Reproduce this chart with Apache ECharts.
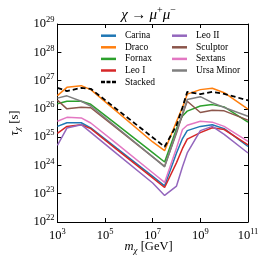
<!DOCTYPE html>
<html><head><meta charset="utf-8">
<script src="https://cdn.jsdelivr.net/npm/echarts@6/dist/echarts.min.js"></script>
<style>html,body{margin:0;padding:0;background:#fff}#c{width:266px;height:262px}</style>
</head><body><div id="c"></div>
<script>
// x: log10(m_chi / GeV), y: log10(tau / s)
const massLog   = [3,     3.4,   4,     4.4,   5.5,   7,     7.5,   8,     8.25,  8.45,  9,     9.5,   10,    11];
const carina    = [25.38, 25.51, 25.51, 25.33, 24.60, 23.61, 23.28, 24.44, 24.95, 25.23, 25.38, 25.44, 25.30, 24.67];
const draco     = [26.47, 26.76, 26.82, 26.68, 25.90, 24.83, 24.52, 25.55, 26.05, 26.52, 26.68, 26.73, 26.57, 25.99];
const fornax    = [26.18, 26.27, 26.27, 26.16, 25.44, 24.45, 24.12, 25.30, 25.75, 25.92, 26.10, 26.15, 26.07, 25.53];
const leoI      = [25.13, 25.38, 25.44, 25.30, 24.56, 23.56, 23.22, 24.10, 24.60, 24.93, 25.16, 25.33, 25.27, 24.73];
const leoII     = [24.71, 25.32, 25.44, 25.17, 24.41, 23.38, 22.94, 23.27, 23.95, 24.44, 25.23, 25.38, 25.10, 24.44];
const sculptor  = [26.31, 26.00, 26.06, 26.04, 25.31, 24.30, 23.97, 25.15, 25.80, 26.27, 25.87, 25.95, 25.93, 25.60];
const sextans   = [25.56, 25.70, 25.68, 25.50, 24.76, 23.74, 23.40, 24.62, 25.27, 25.42, 25.56, 25.53, 25.38, 24.85];
const ursaMinor = [26.38, 26.46, 26.27, 26.10, 25.34, 24.30, 23.95, 25.20, 25.83, 26.33, 26.43, 26.22, 26.05, 25.74];
const stacked   = [26.74, 26.63, 26.74, 26.71, 25.98, 24.99, 24.66, 25.42, 26.05, 26.60, 26.52, 26.60, 26.53, 26.30];

const xTickExps = [3, 5, 7, 9, 11];
const yTickExps = [22, 23, 24, 25, 26, 27, 28, 29];

const names  = ['Carina','Draco','Fornax','Leo I','Leo II','Sculptor','Sextans','Ursa Minor','Stacked'];
const values = [carina, draco, fornax, leoI, leoII, sculptor, sextans, ursaMinor, stacked];
const colors = ['#1f77b4','#ff7f0e','#2ca02c','#d62728','#9467bd','#8c564b','#e377c2','#7f7f7f','#000000'];

const FONT = 'Liberation Serif';
const tickRich = {
  b: {fontFamily: FONT, fontSize: 12.5, color: '#000'},
  s: {fontFamily: FONT, fontSize: 8.5, color: '#000', padding: [0, 0, 8, 0]}
};
const fmtPow = v => '{b|10}{s|' + Math.round(v) + '}';

const chart = echarts.init(document.getElementById('c'), null, {renderer: 'canvas'});

const series = names.map((n, i) => ({
  name: n,
  type: 'line',
  symbol: 'none',
  animation: false,
  data: massLog.map((x, j) => [x, values[i][j]]),
  lineStyle: {color: colors[i], width: n === 'Stacked' ? 1.8 : 1.5, type: n === 'Stacked' ? [5, 3] : 'solid'},
  itemStyle: {color: colors[i]},
  z: n === 'Stacked' ? 5 : 2
}));

const solidIcon  = 'path://M0,0h15v2.5h-15z';
const dashedIcon = 'path://M0,0h4v2.5h-4z M5.5,0h4v2.5h-4z M11,0h4v2.5h-4z';
const legendItem = n => ({name: n, icon: n === 'Stacked' ? dashedIcon : solidIcon});

const legendCommon = {
  orient: 'vertical', padding: 0, itemWidth: 15, itemHeight: 2.5, itemGap: 1.6,
  textStyle: {fontFamily: FONT, fontSize: 9.5, color: '#000', lineHeight: 10, padding: [0, 0, 0, 4]},
  selectedMode: false
};

const axisCommon = {
  type: 'value',
  axisLine: {show: true, onZero: false, lineStyle: {color: '#000', width: 1}},
  axisTick: {show: true, inside: true, length: 4, lineStyle: {color: '#000', width: 1}},
  splitLine: {show: false}
};

chart.setOption({
  animation: false,
  grid: {left: 49, top: 24, right: 18, bottom: 40},
  xAxis: [
    Object.assign({}, axisCommon, {min: 3, max: 11, interval: 2, position: 'bottom',
      axisLabel: {formatter: fmtPow, rich: tickRich, margin: 5, showMinLabel: true, showMaxLabel: true}}),
    Object.assign({}, axisCommon, {min: 3, max: 11, interval: 2, position: 'top', axisLabel: {show: false}})
  ],
  yAxis: [
    Object.assign({}, axisCommon, {min: 22, max: 29, interval: 1, position: 'left',
      axisLabel: {formatter: fmtPow, rich: tickRich, margin: 3, showMinLabel: true, showMaxLabel: true},
      name: '{i|τ}{u|χ} {n|[s]}', nameLocation: 'middle', nameRotate: 90, nameGap: 34,
      nameTextStyle: {rich: {
        i: {fontFamily: FONT, fontStyle: 'italic', fontSize: 12.5, color: '#000'},
        n: {fontFamily: FONT, fontSize: 12.5, color: '#000'},
        u: {fontFamily: FONT, fontStyle: 'italic', fontSize: 9, color: '#000', padding: [7, 0, 0, 0]}
      }}}),
    Object.assign({}, axisCommon, {min: 22, max: 29, interval: 1, position: 'right', axisLabel: {show: false}})
  ],
  legend: [
    Object.assign({}, legendCommon, {left: 101, top: 30.7, data: ['Carina','Draco','Fornax','Leo I','Stacked'].map(legendItem)}),
    Object.assign({}, legendCommon, {left: 172, top: 30.7, data: ['Leo II','Sculptor','Sextans','Ursa Minor'].map(legendItem)})
  ],
  graphic: [
    {type: 'text', x: 148.5, y: 15, style: {
      text: '{i|χ} {n|→} {i|μ}{s|+}{i|μ}{s|−}', align: 'center', verticalAlign: 'middle',
      rich: {
        i: {fontFamily: FONT, fontStyle: 'italic', fontSize: 15, color: '#000'},
        n: {fontFamily: FONT, fontSize: 15, color: '#000'},
        s: {fontFamily: FONT, fontSize: 10, color: '#000', padding: [0, 0, 9, 0]}
      }}},
    {type: 'text', x: 148.5, y: 247, style: {
      text: '{i|m}{u|χ} {n|[GeV]}', align: 'center', verticalAlign: 'middle',
      rich: {
        i: {fontFamily: FONT, fontStyle: 'italic', fontSize: 12.5, color: '#000'},
        n: {fontFamily: FONT, fontSize: 12.5, color: '#000'},
        u: {fontFamily: FONT, fontStyle: 'italic', fontSize: 9, color: '#000', padding: [7, 0, 0, 0]}
      }}}
  ],
  series: series
});
</script></body></html>
